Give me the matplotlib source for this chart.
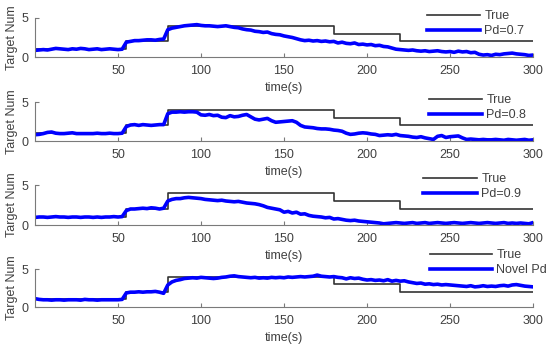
import numpy as np
import matplotlib
matplotlib.use('Agg')
import matplotlib.pyplot as plt

plt.rcParams['font.family'] = ['Liberation Sans', 'DejaVu Sans']

# time grid of the estimated curves (2.5 s step, 0..300)
t = np.arange(121) * 2.5

# true number of targets (step function)
true_t = [0, 55, 80, 180, 220, 300]
true_n = [1, 2, 4, 3, 2, 2]

# estimated target numbers, 10 values per 25 s
est_07 = [0.85, 0.9, 0.95, 0.9, 1.0, 1.1, 1.05, 1.0, 0.95, 1.05,
          1.0, 1.1, 1.05, 0.95, 1.0, 1.05, 0.95, 1.0, 1.05, 1.0,
          0.95, 1.0, 1.9, 2.0, 2.1, 2.1, 2.15, 2.2, 2.2, 2.15,
          2.25, 2.3, 3.5, 3.7, 3.8, 3.9, 4.0, 4.05, 4.1, 4.15,
          4.05, 4.0, 4.0, 3.95, 3.9, 3.95, 4.0, 3.9, 3.8, 3.75,
          3.6, 3.5, 3.45, 3.3, 3.25, 3.15, 3.2, 3.0, 2.9, 2.85,
          2.7, 2.6, 2.5, 2.35, 2.2, 2.1, 2.15, 2.05, 2.1, 2.0,
          2.05, 1.95, 2.0, 1.8, 1.9, 1.75, 1.7, 1.8, 1.6, 1.65,
          1.55, 1.6, 1.45, 1.5, 1.35, 1.3, 1.15, 1.0, 0.95, 0.9,
          0.85, 0.9, 0.8, 0.75, 0.8, 0.7, 0.75, 0.8, 0.7, 0.65,
          0.7, 0.6, 0.75, 0.65, 0.7, 0.55, 0.6, 0.35, 0.25, 0.3,
          0.2, 0.35, 0.3, 0.4, 0.45, 0.5, 0.4, 0.35, 0.3, 0.2,
          0.25]

est_08 = [0.8, 0.85, 0.95, 1.1, 1.15, 1.0, 0.95, 0.95, 1.0, 1.05,
          0.95, 0.95, 0.95, 0.95, 0.95, 1.0, 0.95, 0.95, 1.0, 0.95,
          0.95, 1.0, 1.85, 2.05, 2.1, 2.0, 2.1, 2.05, 2.0, 2.05,
          2.1, 2.1, 3.5, 3.7, 3.7, 3.75, 3.7, 3.75, 3.75, 3.7,
          3.35, 3.3, 3.4, 3.25, 3.3, 3.05, 3.0, 3.25, 3.1, 3.15,
          3.3, 3.4, 3.1, 2.8, 2.7, 2.8, 2.9, 2.6, 2.4, 2.45,
          2.5, 2.55, 2.6, 2.4, 2.0, 1.8, 1.75, 1.7, 1.6, 1.55,
          1.55, 1.5, 1.4, 1.35, 1.25, 1.0, 0.85, 0.9, 1.0, 1.05,
          1.0, 0.9, 0.85, 0.7, 0.75, 0.8, 0.75, 0.85, 0.7, 0.65,
          0.6, 0.5, 0.45, 0.55, 0.4, 0.3, 0.2, 0.6, 0.7, 0.45,
          0.55, 0.6, 0.65, 0.4, 0.2, 0.25, 0.2, 0.15, 0.2, 0.15,
          0.15, 0.2, 0.15, 0.1, 0.2, 0.15, 0.1, 0.15, 0.2, 0.1,
          0.15]

est_09 = [0.95, 1.0, 1.0, 0.95, 1.0, 1.05, 1.0, 1.0, 0.95, 1.0,
          1.0, 0.95, 1.0, 1.0, 0.95, 1.0, 0.95, 1.0, 1.0, 1.05,
          1.0, 1.05, 1.8, 2.0, 2.0, 2.05, 2.1, 2.05, 2.15, 2.1,
          2.0, 2.1, 3.0, 3.2, 3.3, 3.3, 3.4, 3.45, 3.4, 3.35,
          3.3, 3.2, 3.15, 3.1, 3.05, 3.1, 3.0, 2.95, 2.9, 2.95,
          2.85, 2.75, 2.7, 2.65, 2.55, 2.4, 2.2, 2.1, 2.0, 1.9,
          1.6, 1.7, 1.5, 1.6, 1.35, 1.4, 1.2, 1.1, 1.05, 1.0,
          0.9, 0.95, 0.75, 0.8, 0.7, 0.6, 0.55, 0.6, 0.5, 0.45,
          0.4, 0.35, 0.3, 0.25, 0.15, 0.2, 0.25, 0.3, 0.25, 0.2,
          0.25, 0.3, 0.2, 0.25, 0.3, 0.2, 0.25, 0.3, 0.25, 0.2,
          0.25, 0.3, 0.25, 0.2, 0.25, 0.3, 0.25, 0.2, 0.25, 0.3,
          0.25, 0.2, 0.25, 0.3, 0.2, 0.25, 0.2, 0.25, 0.2, 0.15,
          0.3]

est_novel = [1.1, 1.0, 0.95, 0.95, 0.9, 0.95, 0.95, 0.9, 0.95, 0.95,
             0.95, 0.9, 1.0, 0.95, 0.95, 0.9, 0.95, 0.95, 0.95, 0.95,
             0.95, 1.0, 1.85, 1.95, 1.95, 2.0, 1.95, 2.0, 2.0, 2.05,
             1.95, 1.8, 2.9, 3.3, 3.5, 3.6, 3.75, 3.8, 3.85, 3.8,
             3.9, 3.85, 3.8, 3.75, 3.8, 3.9, 3.95, 4.05, 4.1, 4.0,
             3.95, 3.9, 3.85, 3.9, 3.8, 3.85, 3.8, 3.9, 3.85, 3.9,
             3.85, 3.95, 3.9, 3.95, 4.0, 3.95, 4.0, 4.05, 4.2, 4.05,
             4.0, 3.95, 4.0, 3.9, 3.85, 3.7, 3.85, 3.75, 3.8, 3.65,
             3.55, 3.6, 3.5, 3.55, 3.45, 3.6, 3.4, 3.5, 3.4, 3.45,
             3.3, 3.2, 3.1, 3.15, 3.0, 3.05, 2.95, 3.0, 2.9, 2.95,
             2.9, 2.85, 2.8, 2.75, 2.7, 2.8, 2.65, 2.7, 2.8, 2.7,
             2.75, 2.7, 2.8, 2.85, 2.75, 2.9, 2.95, 2.85, 2.75, 2.7,
             2.65]

series = [est_07, est_08, est_09, est_novel]
labels = ['Pd=0.7', 'Pd=0.8', 'Pd=0.9', 'Novel Pd']
xticks = [50, 100, 150, 200, 250, 300]

W, H = 550, 349
fig = plt.figure(figsize=(5.5, 3.49), dpi=100)

# axes pixel boxes: (top, bottom) of each panel
boxes = [(18, 57), (102, 141), (185, 225), (269, 307)]
# legend: handle start x, first row y, handle length (px)
legs = [(427, 14, 53), (429, 98, 53), (423, 177, 54), (430, 253, 62)]

txt = '#404040'
fs = 9

for i in range(4):
    top, bot = boxes[i]
    ax = fig.add_axes([35 / W, 1 - bot / H, (533 - 35) / W, (bot - top) / H])
    ax.plot(true_t, true_n, drawstyle='steps-post', color='#333333', lw=1.2, label='True')
    ax.plot(t, series[i], color='#0000ff', lw=2.6, label=labels[i])
    ax.set_xlim(0, 300)
    ax.set_ylim(0, 5)
    ax.set_xticks(xticks)
    ax.set_yticks([0, 5])
    for s in ['top', 'right']:
        ax.spines[s].set_visible(False)
    for s in ['left', 'bottom']:
        ax.spines[s].set_color('#7a7a7a')
        ax.spines[s].set_linewidth(0.8)
    ax.tick_params(direction='in', length=3, width=0.8, color='#7a7a7a',
                   labelsize=fs, labelcolor=txt)
    ax.tick_params(axis='x', pad=6)
    ax.tick_params(axis='y', pad=5)
    ax.set_xlabel('time(s)', fontsize=fs, color=txt, labelpad=3)
    ax.set_ylabel('Target Num', fontsize=fs, color=txt, labelpad=2)

    lx, ly, hl = legs[i]
    fpx = fs * 100 / 72
    ax.legend(loc='upper left', bbox_to_anchor=(lx / W, 1 - (ly - 4) / H),
              bbox_transform=fig.transFigure, frameon=False, fontsize=fs,
              borderpad=0, borderaxespad=0, handlelength=hl / fpx,
              handletextpad=0.35, labelspacing=0.25, labelcolor=txt)

fig.savefig('out.png', dpi=100)
